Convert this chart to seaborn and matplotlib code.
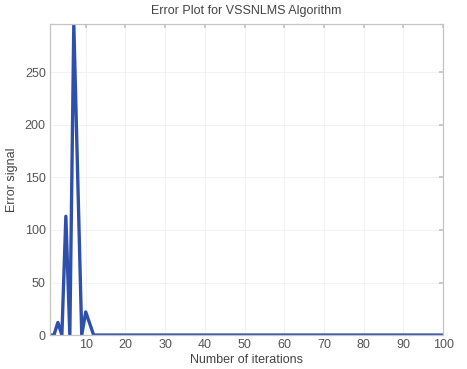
import numpy as np
import pandas as pd
import matplotlib
matplotlib.use("Agg")
import matplotlib.pyplot as plt
import seaborn as sns

iterations = list(range(1, 101))
early_errors = [0, 0, 12, 0, 113, 0, 296, 148, 0, 22, 11, 0]
errors = early_errors + [0] * (100 - len(early_errors))
x_ticks = [10, 20, 30, 40, 50, 60, 70, 80, 90, 100]
y_ticks = [0, 50, 100, 150, 200, 250]

df = pd.DataFrame({"iter": iterations, "err": errors})

sns.set_theme(style="white")
plt.rcParams['font.family'] = ['Liberation Sans', 'DejaVu Sans']

fig = plt.figure(figsize=(4.67, 3.69), dpi=100)
ax = fig.add_axes([0.107, 0.092, 0.842, 0.843])
sns.lineplot(data=df, x="iter", y="err", ax=ax, color="#2f4fad", linewidth=2.4)
ax.set_xlim(1, 100)
ax.set_ylim(0, 296)
ax.set_xticks(x_ticks)
ax.set_yticks(y_ticks)
ax.grid(True, color="#f0f0f0", linewidth=0.6)
for s in ax.spines.values():
    s.set_color("#c4c4c4")
    s.set_linewidth(0.9)
ax.tick_params(axis="both", direction="in", length=3, color="#c4c4c4",
               labelsize=9, labelcolor="#555555", top=True, right=True, pad=3)
ax.set_xlabel("Number of iterations", fontsize=9, color="#444444", labelpad=2)
ax.set_ylabel("Error signal", fontsize=9, color="#444444", labelpad=5)
ax.set_title("Error Plot for VSSNLMS Algorithm", fontsize=9, color="#444444", pad=7)
fig.savefig("out.png", dpi=100, facecolor="white")
